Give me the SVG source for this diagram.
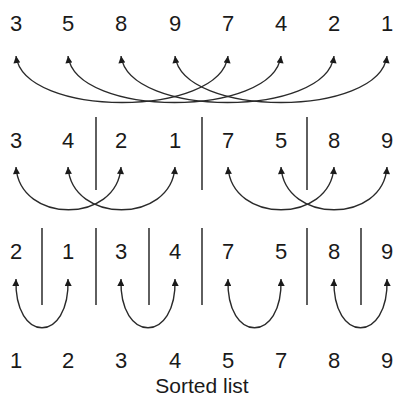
<svg xmlns="http://www.w3.org/2000/svg" width="396" height="399" viewBox="0 0 396 399">
<style>
.d{font-family:"Liberation Sans",Arial,sans-serif;font-size:22px;fill:#1a1a1a;text-anchor:middle}
.lbl{font-family:"Liberation Sans",Arial,sans-serif;font-size:21px;fill:#1a1a1a;text-anchor:middle}
.div{stroke:#444;stroke-width:1.7}
.arc{fill:none;stroke:#2a2a2a;stroke-width:1.4;marker-start:url(#ah);marker-end:url(#ah)}
</style>
<defs>
<marker id="ah" viewBox="0 0 10 10" refX="10" refY="5" markerWidth="11" markerHeight="7" orient="auto-start-reverse" markerUnits="userSpaceOnUse">
<path d="M0,0 L10,5 L0,10 z" fill="#1a1a1a"/>
</marker>
</defs>
<rect width="396" height="399" fill="#fff"/>
<g id="row1">
<g id="r1c0"><text class="d" x="16" y="31">3</text></g>
<g id="r1c1"><text class="d" x="68" y="31">5</text></g>
<g id="r1c2"><text class="d" x="121" y="31">8</text></g>
<g id="r1c3"><text class="d" x="175" y="31">9</text></g>
<g id="r1c4"><text class="d" x="228" y="31">7</text></g>
<g id="r1c5"><text class="d" x="281" y="31">4</text></g>
<g id="r1c6"><text class="d" x="334" y="31">2</text></g>
<g id="r1c7"><text class="d" x="387" y="31">1</text></g>
</g>
<g id="row2">
<g id="r2c0"><text class="d" x="16" y="148">3</text></g>
<g id="r2c1"><text class="d" x="68" y="148">4</text></g>
<g id="r2c2"><text class="d" x="121" y="148">2</text></g>
<g id="r2c3"><text class="d" x="175" y="148">1</text></g>
<g id="r2c4"><text class="d" x="228" y="148">7</text></g>
<g id="r2c5"><text class="d" x="281" y="148">5</text></g>
<g id="r2c6"><text class="d" x="334" y="148">8</text></g>
<g id="r2c7"><text class="d" x="387" y="148">9</text></g>
</g>
<g id="row3">
<g id="r3c0"><text class="d" x="16" y="259">2</text></g>
<g id="r3c1"><text class="d" x="68" y="259">1</text></g>
<g id="r3c2"><text class="d" x="121" y="259">3</text></g>
<g id="r3c3"><text class="d" x="175" y="259">4</text></g>
<g id="r3c4"><text class="d" x="228" y="259">7</text></g>
<g id="r3c5"><text class="d" x="281" y="259">5</text></g>
<g id="r3c6"><text class="d" x="334" y="259">8</text></g>
<g id="r3c7"><text class="d" x="387" y="259">9</text></g>
</g>
<g id="row4">
<g id="r4c0"><text class="d" x="16" y="368">1</text></g>
<g id="r4c1"><text class="d" x="68" y="368">2</text></g>
<g id="r4c2"><text class="d" x="121" y="368">3</text></g>
<g id="r4c3"><text class="d" x="175" y="368">4</text></g>
<g id="r4c4"><text class="d" x="228" y="368">5</text></g>
<g id="r4c5"><text class="d" x="281" y="368">7</text></g>
<g id="r4c6"><text class="d" x="334" y="368">8</text></g>
<g id="r4c7"><text class="d" x="387" y="368">9</text></g>
</g>
<g id="caption"><text class="lbl" x="202" y="393">Sorted list</text></g>
<g id="dividers">
<line class="div" x1="96" y1="117" x2="96" y2="190"/>
<line class="div" x1="202" y1="117" x2="202" y2="190"/>
<line class="div" x1="307" y1="117" x2="307" y2="190"/>
<line class="div" x1="42" y1="228" x2="42" y2="305"/>
<line class="div" x1="96" y1="228" x2="96" y2="305"/>
<line class="div" x1="149" y1="228" x2="149" y2="305"/>
<line class="div" x1="202" y1="228" x2="202" y2="305"/>
<line class="div" x1="307" y1="228" x2="307" y2="305"/>
<line class="div" x1="361" y1="228" x2="361" y2="305"/>
</g>
<g id="connectors">
<path class="arc" d="M16,56 C24,118 220,118 228,56"/>
<path class="arc" d="M68,56 C76,118 273,118 281,56"/>
<path class="arc" d="M121,56 C129,118 326,118 334,56"/>
<path class="arc" d="M175,56 C183,118 379,118 387,56"/>
<path class="arc" d="M16,167 C20,224 117,224 121,167"/>
<path class="arc" d="M68,167 C72,224 171,224 175,167"/>
<path class="arc" d="M228,167 C232,224 330,224 334,167"/>
<path class="arc" d="M281,167 C285,224 383,224 387,167"/>
<path class="arc" d="M16,279 C14,344 70,344 68,279"/>
<path class="arc" d="M121,279 C119,344 177,344 175,279"/>
<path class="arc" d="M228,279 C226,344 283,344 281,279"/>
<path class="arc" d="M334,279 C332,344 389,344 387,279"/>
</g>
</svg>
